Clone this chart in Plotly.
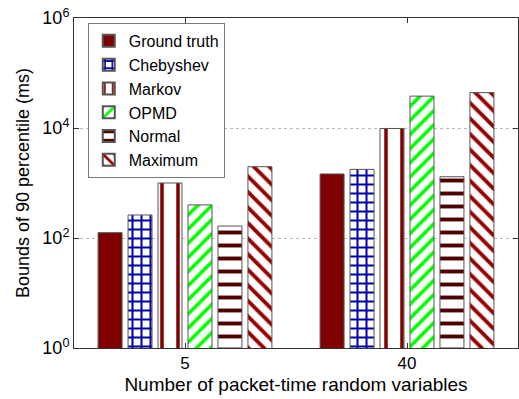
import plotly.graph_objects as go

categories = ["5", "40"]
series_names = ["Ground truth", "Chebyshev", "Markov", "OPMD", "Normal", "Maximum"]
values = {
    "Ground truth": [125, 1460],
    "Chebyshev": [262, 1770],
    "Markov": [1000, 9800],
    "OPMD": [400, 38000],
    "Normal": [165, 1300],
    "Maximum": [1980, 44000],
}
y_tickvals = [1, 100, 10000, 1000000]
y_ticktext = ["10<sup>0</sup>", "10<sup>2</sup>", "10<sup>4</sup>", "10<sup>6</sup>"]

styles = {
    "Ground truth": dict(shape="", fg="#800000", size=8, sol=0.3),
    "Chebyshev": dict(shape="+", fg="#0000a8", size=9, sol=0.4),
    "Markov": dict(shape="|", fg="#800000", size=16, sol=0.22),
    "OPMD": dict(shape="/", fg="#00ff00", size=10, sol=0.35),
    "Normal": dict(shape="-", fg="#500000", size=13, sol=0.3),
    "Maximum": dict(shape="\\", fg="#990000", size=11, sol=0.35),
}

fig = go.Figure()
for name in series_names:
    st = styles[name]
    if st["shape"] == "":
        marker = dict(color=st["fg"], line=dict(color="#555555", width=1))
    else:
        marker = dict(
            color="white",
            line=dict(color="#555555", width=1),
            pattern=dict(shape=st["shape"], fgcolor=st["fg"], bgcolor="white",
                         size=st["size"], solidity=st["sol"], fillmode="overlay", fgopacity=1),
        )
    fig.add_trace(go.Bar(name=name, x=categories, y=values[name], marker=marker))

font_family = "Liberation Sans, Arial, sans-serif"
fig.update_layout(
    width=519, height=399,
    margin=dict(l=74, r=1, t=18, b=51),
    paper_bgcolor="white", plot_bgcolor="white",
    barmode="group", bargap=0.19, bargroupgap=0.2,
    font=dict(family=font_family, size=16, color="black"),
    legend=dict(x=0.031, y=0.985, xanchor="left", yanchor="top",
                bordercolor="#777777", borderwidth=1, bgcolor="white",
                font=dict(size=16), tracegroupgap=0, itemwidth=30,
                itemsizing="constant"),
    showlegend=True,
)
fig.update_xaxes(
    type="category", range=[-0.5, 1.5],
    showline=True, linecolor="#333333", linewidth=1, mirror="ticks",
    ticks="inside", ticklen=5, tickcolor="#333333",
    tickfont=dict(size=17),
    title=dict(text="Number of packet-time random variables", font=dict(size=19), standoff=5),
    showgrid=False,
)
fig.update_yaxes(
    type="log", range=[0, 6],
    tickvals=y_tickvals, ticktext=y_ticktext,
    showline=True, linecolor="#333333", linewidth=1, mirror="ticks",
    ticks="inside", ticklen=5, tickcolor="#333333",
    tickfont=dict(size=18),
    showgrid=True, gridcolor="#bbbbbb", griddash="dot", gridwidth=1,
    title=dict(text="Bounds of 90 percentile (ms)", font=dict(size=18), standoff=8),
    zeroline=False,
)
fig.write_html("out.html")
